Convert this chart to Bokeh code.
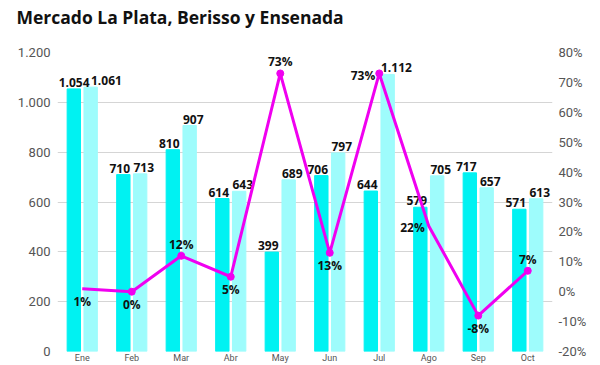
from bokeh.plotting import figure
from bokeh.models import (ColumnDataSource, FactorRange, Range1d, LinearAxis,
                          FixedTicker, Title)
from bokeh.transform import dodge
from bokeh.core.properties import value
from bokeh.embed import file_html
from bokeh.resources import INLINE

# ---- data ----
months = ["Ene", "Feb", "Mar", "Abr", "May", "Jun", "Jul", "Ago", "Sep", "Oct"]
prev_year = [1054, 710, 810, 614, 399, 706, 644, 579, 717, 571]
this_year = [1061, 713, 907, 643, 689, 797, 1112, 705, 657, 613]
pct_change = [1, 0, 12, 5, 73, 13, 73, 22, -8, 7]
left_ticks = [0, 200, 400, 600, 800, 1000, 1200]
left_tick_labels = ["0", "200", "400", "600", "800", "1.000", "1.200"]
right_ticks = [-20, -10, 0, 10, 20, 30, 40, 50, 60, 70, 80]

# label placement (style) for the % labels and small nudges for crowded labels
pct_place = ["below", "below", "above", "below", "above",
             "below", "left", "left", "below", "above"]
pct_marker = [0, 7, 7, 7, 7, 7, 7, 0, 7, 7]
prev_nudge = [9, 0, 0, 0, 0, 0, 0, 0, 0, 0]
curr_nudge = [7, 0, 0, 0, 0, 0, 0, 0, 0, 0]

DARK = "#00F2F2"
LIGHT = "#9EFCFC"
MAG = "#F000F0"
FONT = "Roboto"
LFONT = "Open Sans"

def fmt(v):
    return f"{v:,}".replace(",", ".")

align_map = {"above": "center", "below": "center", "left": "right"}
base_map = {"above": "bottom", "below": "top", "left": "middle"}
xoff_map = {"above": 0, "below": 0, "left": -4}
yoff_map = {"above": -3, "below": 4, "left": 2}

src = ColumnDataSource(dict(
    month=months, prev=prev_year, curr=this_year, pct=pct_change,
    prev_txt=[fmt(v) for v in prev_year],
    curr_txt=[fmt(v) for v in this_year],
    pct_txt=[f"{v}%" for v in pct_change],
    align=[align_map[p] for p in pct_place],
    base=[base_map[p] for p in pct_place],
    xoff=[xoff_map[p] for p in pct_place],
    yoff=[yoff_map[p] for p in pct_place],
    msize=pct_marker,
    pn=prev_nudge, cn=curr_nudge,
))

p = figure(width=600, height=365, x_range=FactorRange(*months, range_padding=0),
           y_range=Range1d(0, 1200), output_backend="svg", toolbar_location=None,
           min_border_left=57, min_border_right=48, min_border_top=52,
           min_border_bottom=8, title_location=None)
p.extra_y_ranges = {"pct": Range1d(-20, 80)}
p.outline_line_color = None
p.background_fill_color = "white"
p.border_fill_color = "white"

# spacer between the title and the plot, then the title itself
p.add_layout(Title(text=" ", text_font_size="20px", standoff=0), "above")
p.add_layout(Title(text="Mercado La Plata, Berisso y Ensenada", text_font=LFONT,
                   text_font_style="bold", text_font_size="17.5px", standoff=0,
                   text_color="#111111", align="left", offset=-41), "above")

# axes
def style_axis(ax, size, standoff):
    ax.axis_line_color = None
    ax.major_tick_line_color = None
    ax.minor_tick_line_color = None
    ax.major_tick_out = 0
    ax.major_tick_in = 0
    ax.minor_tick_out = 0
    ax.minor_tick_in = 0
    ax.major_label_text_font = FONT
    ax.major_label_text_font_size = size
    ax.major_label_text_color = "#555555"
    ax.major_label_standoff = standoff

style_axis(p.xaxis[0], "9px", 1)

yl = p.yaxis[0]
yl.ticker = FixedTicker(ticks=left_ticks)
yl.major_label_overrides = {t: s for t, s in zip(left_ticks, left_tick_labels)}
style_axis(yl, "13px", 7)

yr = LinearAxis(y_range_name="pct", ticker=FixedTicker(ticks=right_ticks))
yr.major_label_overrides = {t: f"{t}%" for t in right_ticks}
style_axis(yr, "13px", 6)
p.add_layout(yr, "right")

p.xgrid.grid_line_color = None
p.ygrid.ticker = FixedTicker(ticks=left_ticks)
p.ygrid.grid_line_color = "#d5d5d5"
p.ygrid.grid_line_width = 1.2

# bars
p.vbar(x=dodge("month", -0.17, range=p.x_range), top="prev", width=0.27,
       source=src, color=DARK)
p.vbar(x=dodge("month", 0.17, range=p.x_range), top="curr", width=0.27,
       source=src, color=LIGHT)

# bar labels
lab_style = dict(text_font=value(LFONT), text_font_style="bold",
                 text_font_size="12px", text_color="#111111",
                 text_baseline="bottom", y_offset=-2)
p.text(x=dodge("month", -0.035, range=p.x_range), y="prev", text="prev_txt",
       source=src, text_align="right", x_offset="pn", **lab_style)
p.text(x=dodge("month", 0.035, range=p.x_range), y="curr", text="curr_txt",
       source=src, text_align="left", x_offset="cn", **lab_style)

# line
p.line(x="month", y="pct", source=src, y_range_name="pct", color=MAG,
       line_width=3)
p.scatter(x="month", y="pct", source=src, y_range_name="pct", color=MAG,
          size="msize")
p.text(x="month", y="pct", text="pct_txt", source=src, y_range_name="pct",
       text_align="align", text_baseline="base", x_offset="xoff", y_offset="yoff",
       text_font=value(LFONT), text_font_style="bold", text_font_size="12px",
       text_color="#111111")

open("out.html", "w").write(file_html(p, INLINE))
